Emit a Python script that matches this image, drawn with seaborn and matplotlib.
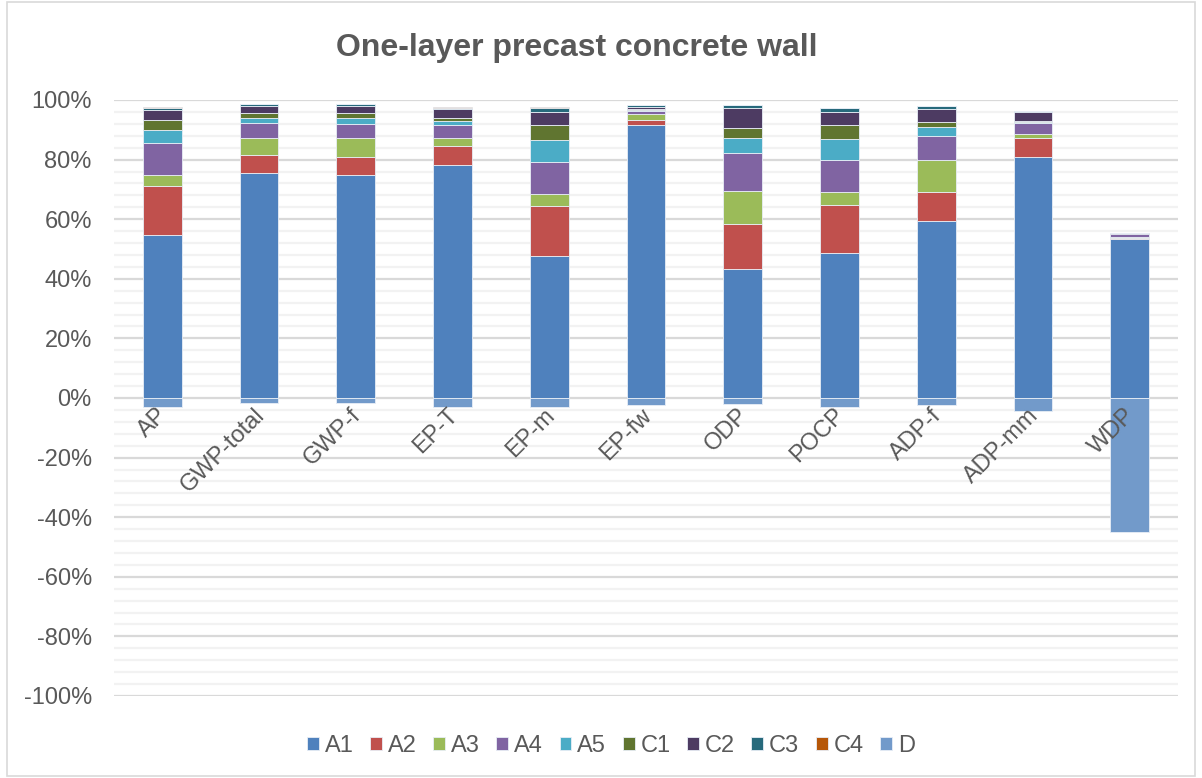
import matplotlib
matplotlib.use("Agg")
import matplotlib.pyplot as plt
import matplotlib.transforms as mtransforms
import seaborn as sns
import numpy as np
import pandas as pd
from matplotlib.patches import Rectangle
from matplotlib.ticker import MultipleLocator, PercentFormatter

categories = ["AP", "GWP-total", "GWP-f", "EP-T", "EP-m", "EP-fw", "ODP", "POCP", "ADP-f", "ADP-mm", "WDP"]

A1 = [54.6, 75.5, 74.8, 78.2, 47.8, 91.6, 43.2, 48.6, 59.5, 80.9, 53.2]
A2 = [16.7, 6.0, 6.1, 6.3, 16.6, 1.7, 15.3, 16.0, 9.6, 6.5, 0.6]
A3 = [3.6, 5.8, 6.4, 2.6, 4.1, 2.1, 10.8, 4.6, 10.6, 1.3, 0.2]
A4 = [10.7, 4.9, 4.6, 4.6, 10.6, 1.0, 12.8, 10.5, 8.2, 3.7, 1.0]
A5 = [4.5, 1.9, 2.2, 1.2, 7.4, 0.4, 5.0, 7.1, 2.9, 0.2, 0.1]
C1 = [3.3, 1.4, 1.4, 1.2, 5.2, 0.3, 3.6, 4.9, 1.9, 0.2, 0.1]
C2 = [3.3, 2.5, 2.5, 2.9, 4.4, 0.7, 6.5, 4.4, 4.4, 3.3, 0.1]
C3 = [0.7, 0.6, 0.6, 0.4, 1.2, 0.4, 1.0, 1.2, 0.8, 0.1, 0.05]
C4 = [0.2, 0.2, 0.2, 0.2, 0.2, 0.2, 0.2, 0.1, 0.1, 0.2, 0.1]
D = [-3.0, -1.8, -1.8, -2.9, -3.0, -2.4, -2.1, -3.0, -2.5, -4.4, -45.0]

modules = ["A1", "A2", "A3", "A4", "A5", "C1", "C2", "C3", "C4", "D"]
colors = ["#4F81BD", "#C0504D", "#9BBB59", "#8064A2", "#4BACC6",
          "#607530", "#4D3B62", "#276A7C", "#B65708", "#729ACA"]

sns.set_theme(style="white")
plt.rcParams["font.family"] = ["Liberation Sans", "DejaVu Sans"]
plt.rcParams["axes.unicode_minus"] = False

FS = 17
TXT = "#595959"

fig = plt.figure(figsize=(12.02, 7.78), dpi=100)
ax = fig.add_axes([114/1202, 1-696/778, (1178-114)/1202, (696-100)/778])

stack = [A1, A2, A3, A4, A5, C1, C2, C3, C4]
bottom = np.zeros(len(categories))
for name, vals, col in zip(modules[:-1], stack, colors[:-1]):
    sns.barplot(x=categories, y=vals, bottom=bottom, color=col, saturation=1,
                width=0.4, edgecolor="#E8EEF6", linewidth=0.6, ax=ax, label=name)
    bottom = bottom + np.array(vals)
sns.barplot(x=categories, y=D, color=colors[-1], saturation=1, width=0.4,
            edgecolor="#E8EEF6", linewidth=0.6, ax=ax, label="D")

h, l = ax.get_legend_handles_labels()
if ax.get_legend() is not None:
    ax.get_legend().remove()

ax.set_ylim(-100, 100)
ax.set_xlim(-0.5, len(categories) - 0.5)
ax.yaxis.set_major_locator(MultipleLocator(20))
ax.yaxis.set_minor_locator(MultipleLocator(4))
ax.yaxis.set_major_formatter(PercentFormatter(decimals=0))
ax.grid(axis="y", which="major", color="#D9D9D9", linewidth=1.6)
ax.grid(axis="y", which="minor", color="#F2F2F2", linewidth=1.6)
ax.set_axisbelow(True)
for s in ax.spines.values():
    s.set_visible(False)
ax.tick_params(axis="both", which="both", length=0, labelsize=FS, colors=TXT)
ax.tick_params(axis="y", pad=16)
ax.set_xticklabels([])
ax.set_xlabel("")
ax.set_ylabel("")

offset = mtransforms.ScaledTranslation(2/100, -14/100, fig.dpi_scale_trans)
for i, cat in enumerate(categories):
    ax.text(i, 0, cat, transform=ax.transData + offset, rotation=45,
            ha="right", va="center", rotation_mode="anchor",
            fontsize=FS, color=TXT, zorder=10)

fig.legend(h, l, loc="center", bbox_to_anchor=(611/1202, 1-746/778), ncol=10,
           frameon=False, fontsize=FS, labelcolor=TXT, handlelength=0.5,
           handleheight=0.5, handletextpad=0.25, columnspacing=0.7)

fig.text(577/1202, 1-48/778, "One-layer precast concrete wall", ha="center", va="center",
         fontsize=23, fontweight="bold", color=TXT)

fig.patches.append(Rectangle((7/1202, 2/778), 1-14/1202, 1-4/778, transform=fig.transFigure,
                             fill=False, edgecolor="#D9D9D9", linewidth=1.2))

fig.savefig("out.png", dpi=100, facecolor="white")
